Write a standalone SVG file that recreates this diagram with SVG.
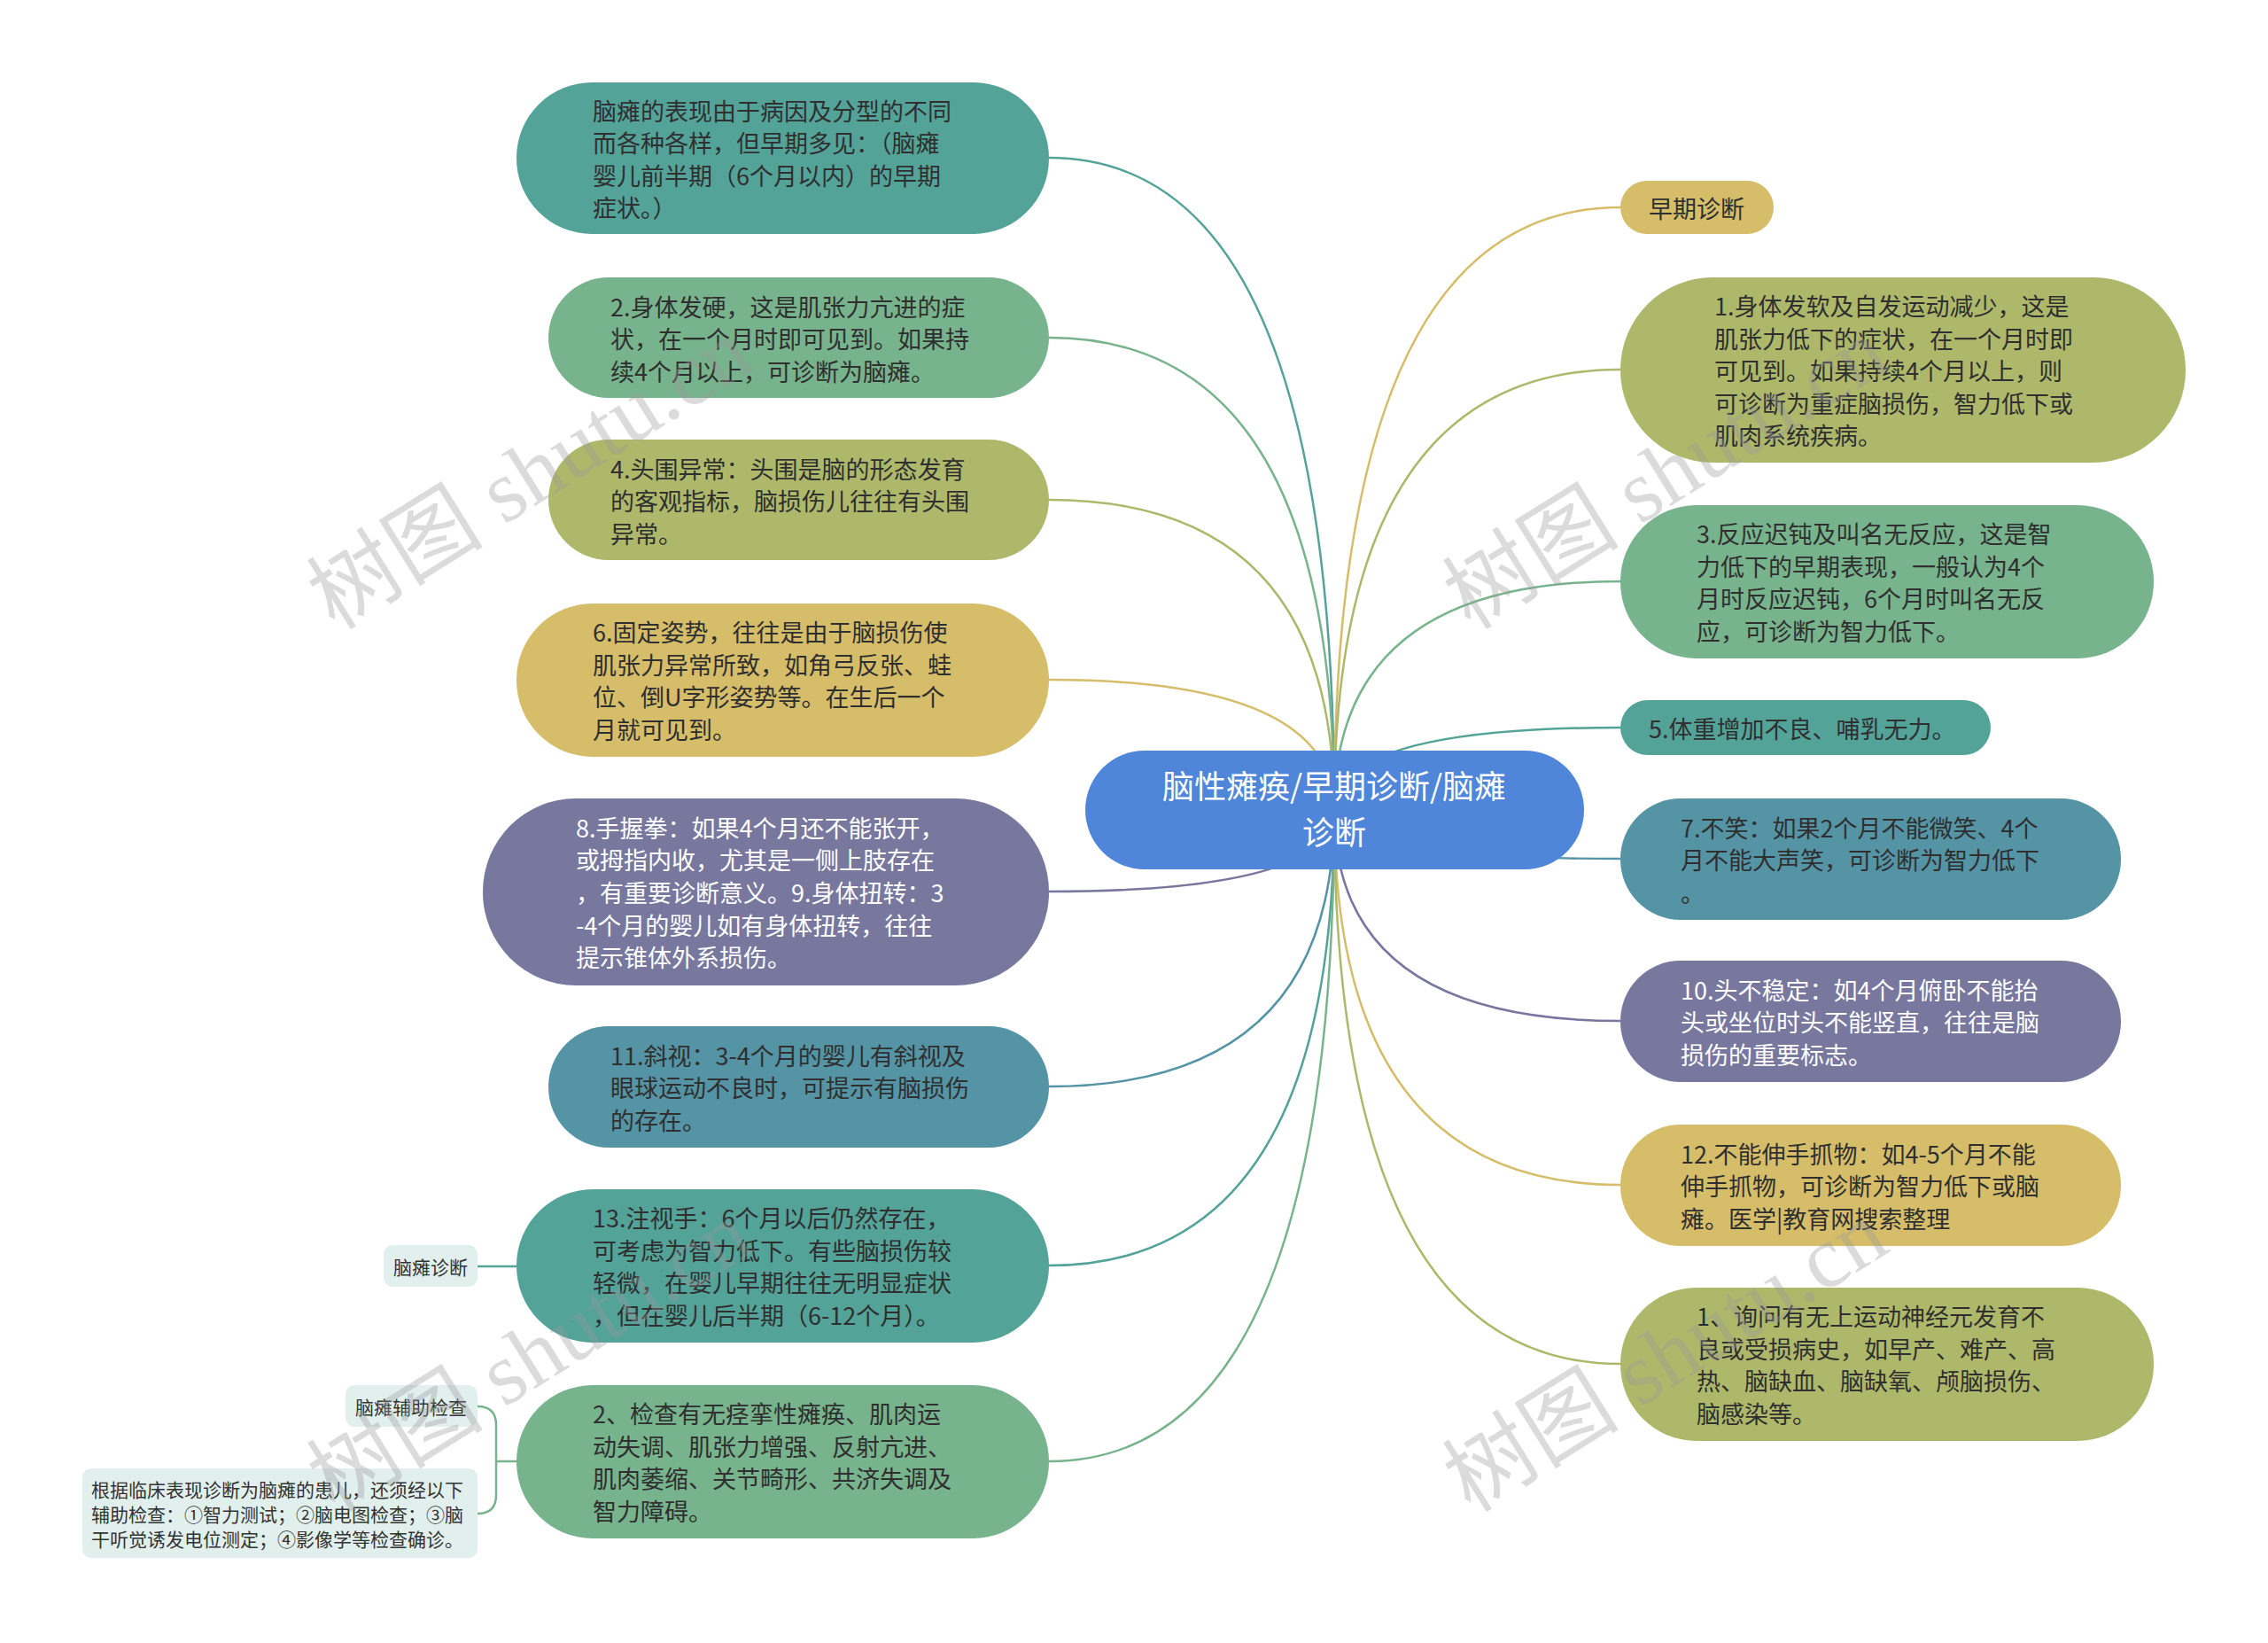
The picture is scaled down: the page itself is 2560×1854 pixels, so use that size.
<svg xmlns="http://www.w3.org/2000/svg" width="2560" height="1854" viewBox="0 0 2560 1854">
<style>
.t{font-family:"Noto Sans CJK SC","Noto Sans",sans-serif;font-size:27px;fill:#2f2f2f;dominant-baseline:central}
.w{fill:#ffffff}
.s{font-family:"Noto Sans CJK SC","Noto Sans",sans-serif;font-size:21px;fill:#333333;dominant-baseline:central}
.c{font-family:"Noto Sans CJK SC","Noto Sans",sans-serif;font-size:36px;fill:#ffffff;dominant-baseline:central;text-anchor:middle}
.ln{fill:none;stroke-width:2.5}
.teal{fill:#53a399}.green{fill:#77b38c}.olive{fill:#adb86b}.gold{fill:#d5bd6a}.purple{fill:#78789f}.blue{fill:#5494a5}
.sub{fill:#e1efed}
.wm{font-family:"Liberation Serif","Noto Sans CJK SC",serif;font-size:100px;fill:#9a9a9a;opacity:0.35}
</style>
<rect width="2560" height="1854" fill="#ffffff"/>
<g id="connectors">
<path class="ln" stroke="#53a399" d="M1506 914 Q1506 178 1184 178"/>
<path class="ln" stroke="#77b38c" d="M1506 914 Q1506 381 1184 381"/>
<path class="ln" stroke="#adb86b" d="M1506 914 Q1506 564 1184 564"/>
<path class="ln" stroke="#d5bd6a" d="M1506 914 Q1506 767 1184 767"/>
<path class="ln" stroke="#78789f" d="M1506 914 Q1506 1006 1184 1006"/>
<path class="ln" stroke="#5494a5" d="M1506 914 Q1506 1226 1184 1226"/>
<path class="ln" stroke="#53a399" d="M1506 914 Q1506 1428 1184 1428"/>
<path class="ln" stroke="#77b38c" d="M1506 914 Q1506 1649 1184 1649"/>
<path class="ln" stroke="#d5bd6a" d="M1506 914 Q1506 234 1829 234"/>
<path class="ln" stroke="#adb86b" d="M1506 914 Q1506 417 1829 417"/>
<path class="ln" stroke="#77b38c" d="M1506 914 Q1506 656 1829 656"/>
<path class="ln" stroke="#53a399" d="M1506 914 Q1506 821 1829 821"/>
<path class="ln" stroke="#5494a5" d="M1506 914 Q1506 969 1829 969"/>
<path class="ln" stroke="#78789f" d="M1506 914 Q1506 1152 1829 1152"/>
<path class="ln" stroke="#d5bd6a" d="M1506 914 Q1506 1337 1829 1337"/>
<path class="ln" stroke="#adb86b" d="M1506 914 Q1506 1539 1829 1539"/>
<path class="ln" stroke="#53a399" d="M583 1429 H539"/>
<path class="ln" stroke="#77b38c" d="M583 1649 H560 M539 1587 Q560 1587 560 1608 V1687 Q560 1708 539 1708"/>
</g>
<g id="center">
<rect x="1225" y="847" width="563" height="134" rx="67" fill="#4f86d9"/>
<text class="c" x="1506" y="885">脑性瘫痪/早期诊断/脑瘫</text>
<text class="c" x="1506" y="937">诊断</text>
</g>
<g id="L1">
<rect class="teal" x="583" y="93" width="601" height="171" rx="85"/>
<text class="t" x="669" y="124">脑瘫的表现由于病因及分型的不同</text>
<text class="t" x="669" y="160">而各种各样，但早期多见：（脑瘫</text>
<text class="t" x="669" y="197">婴儿前半期（6个月以内）的早期</text>
<text class="t" x="669" y="233">症状。）</text>
</g>
<g id="L2">
<rect class="green" x="619" y="313" width="565" height="136" rx="68"/>
<text class="t" x="689" y="345">2.身体发硬，这是肌张力亢进的症</text>
<text class="t" x="689" y="381">状，在一个月时即可见到。如果持</text>
<text class="t" x="689" y="418">续4个月以上，可诊断为脑瘫。</text>
</g>
<g id="L3">
<rect class="olive" x="619" y="496" width="565" height="136" rx="68"/>
<text class="t" x="689" y="528">4.头围异常：头围是脑的形态发育</text>
<text class="t" x="689" y="564">的客观指标，脑损伤儿往往有头围</text>
<text class="t" x="689" y="601">异常。</text>
</g>
<g id="L4">
<rect class="gold" x="583" y="681" width="601" height="173" rx="86"/>
<text class="t" x="669" y="712">6.固定姿势，往往是由于脑损伤使</text>
<text class="t" x="669" y="749">肌张力异常所致，如角弓反张、蛙</text>
<text class="t" x="669" y="785">位、倒U字形姿势等。在生后一个</text>
<text class="t" x="669" y="822">月就可见到。</text>
</g>
<g id="L5">
<rect class="purple" x="545" y="901" width="639" height="211" rx="105"/>
<text class="t w" x="650" y="933">8.手握拳：如果4个月还不能张开，</text>
<text class="t w" x="650" y="969">或拇指内收，尤其是一侧上肢存在</text>
<text class="t w" x="650" y="1006">，有重要诊断意义。9.身体扭转：3</text>
<text class="t w" x="650" y="1043">-4个月的婴儿如有身体扭转，往往</text>
<text class="t w" x="650" y="1079">提示锥体外系损伤。</text>
</g>
<g id="L6">
<rect class="blue" x="619" y="1158" width="565" height="137" rx="68"/>
<text class="t" x="689" y="1190">11.斜视：3-4个月的婴儿有斜视及</text>
<text class="t" x="689" y="1226">眼球运动不良时，可提示有脑损伤</text>
<text class="t" x="689" y="1263">的存在。</text>
</g>
<g id="L7">
<rect class="teal" x="583" y="1342" width="601" height="173" rx="86"/>
<text class="t" x="669" y="1373">13.注视手：6个月以后仍然存在，</text>
<text class="t" x="669" y="1410">可考虑为智力低下。有些脑损伤较</text>
<text class="t" x="669" y="1446">轻微，在婴儿早期往往无明显症状</text>
<text class="t" x="669" y="1483">，但在婴儿后半期（6-12个月）。</text>
</g>
<g id="L8">
<rect class="green" x="583" y="1563" width="601" height="173" rx="86"/>
<text class="t" x="669" y="1594">2、检查有无痉挛性瘫痪、肌肉运</text>
<text class="t" x="669" y="1631">动失调、肌张力增强、反射亢进、</text>
<text class="t" x="669" y="1667">肌肉萎缩、关节畸形、共济失调及</text>
<text class="t" x="669" y="1704">智力障碍。</text>
</g>
<g id="S1">
<rect class="sub" x="433" y="1405" width="106" height="47" rx="10"/>
<text class="s" x="486" y="1429" text-anchor="middle">脑瘫诊断</text>
</g>
<g id="S2">
<rect class="sub" x="390" y="1563" width="149" height="47" rx="10"/>
<text class="s" x="464" y="1587" text-anchor="middle">脑瘫辅助检查</text>
</g>
<g id="S3">
<rect class="sub" x="93" y="1657" width="446" height="101" rx="10"/>
<text class="s" x="103" y="1680">根据临床表现诊断为脑瘫的患儿，还须经以下</text>
<text class="s" x="103" y="1708">辅助检查：①智力测试；②脑电图检查；③脑</text>
<text class="s" x="103" y="1736">干听觉诱发电位测定；④影像学等检查确诊。</text>
</g>
<g id="R0">
<rect class="gold" x="1829" y="204" width="173" height="60" rx="30"/>
<text class="t" x="1861" y="234">早期诊断</text>
</g>
<g id="R1">
<rect class="olive" x="1829" y="313" width="638" height="209" rx="104"/>
<text class="t" x="1935" y="344">1.身体发软及自发运动减少，这是</text>
<text class="t" x="1935" y="381">肌张力低下的症状，在一个月时即</text>
<text class="t" x="1935" y="417">可见到。如果持续4个月以上，则</text>
<text class="t" x="1935" y="454">可诊断为重症脑损伤，智力低下或</text>
<text class="t" x="1935" y="490">肌肉系统疾病。</text>
</g>
<g id="R2">
<rect class="green" x="1829" y="570" width="602" height="173" rx="86"/>
<text class="t" x="1915" y="601">3.反应迟钝及叫名无反应，这是智</text>
<text class="t" x="1915" y="638">力低下的早期表现，一般认为4个</text>
<text class="t" x="1915" y="674">月时反应迟钝，6个月时叫名无反</text>
<text class="t" x="1915" y="711">应，可诊断为智力低下。</text>
</g>
<g id="R3">
<rect class="teal" x="1829" y="790" width="418" height="62" rx="31"/>
<text class="t" x="1861" y="821">5.体重增加不良、哺乳无力。</text>
</g>
<g id="R4">
<rect class="blue" x="1829" y="901" width="565" height="137" rx="68"/>
<text class="t" x="1897" y="933">7.不笑：如果2个月不能微笑、4个</text>
<text class="t" x="1897" y="969">月不能大声笑，可诊断为智力低下</text>
<text class="t" x="1897" y="1006">。</text>
</g>
<g id="R5">
<rect class="purple" x="1829" y="1084" width="565" height="137" rx="68"/>
<text class="t w" x="1897" y="1116">10.头不稳定：如4个月俯卧不能抬</text>
<text class="t w" x="1897" y="1152">头或坐位时头不能竖直，往往是脑</text>
<text class="t w" x="1897" y="1189">损伤的重要标志。</text>
</g>
<g id="R6">
<rect class="gold" x="1829" y="1269" width="565" height="137" rx="68"/>
<text class="t" x="1897" y="1301">12.不能伸手抓物：如4-5个月不能</text>
<text class="t" x="1897" y="1337">伸手抓物，可诊断为智力低下或脑</text>
<text class="t" x="1897" y="1374">瘫。医学|教育网搜索整理</text>
</g>
<g id="R7">
<rect class="olive" x="1829" y="1453" width="602" height="173" rx="86"/>
<text class="t" x="1915" y="1484">1、询问有无上运动神经元发育不</text>
<text class="t" x="1915" y="1521">良或受损病史，如早产、难产、高</text>
<text class="t" x="1915" y="1557">热、脑缺血、脑缺氧、颅脑损伤、</text>
<text class="t" x="1915" y="1594">脑感染等。</text>
</g>
<g id="watermarks">
<text class="wm" transform="translate(378 712) rotate(-32)">树图 shutu.cn</text>
<text class="wm" transform="translate(1660 712) rotate(-32)">树图 shutu.cn</text>
<text class="wm" transform="translate(378 1708) rotate(-32)">树图 shutu.cn</text>
<text class="wm" transform="translate(1660 1708) rotate(-32)">树图 shutu.cn</text>
</g>
</svg>
